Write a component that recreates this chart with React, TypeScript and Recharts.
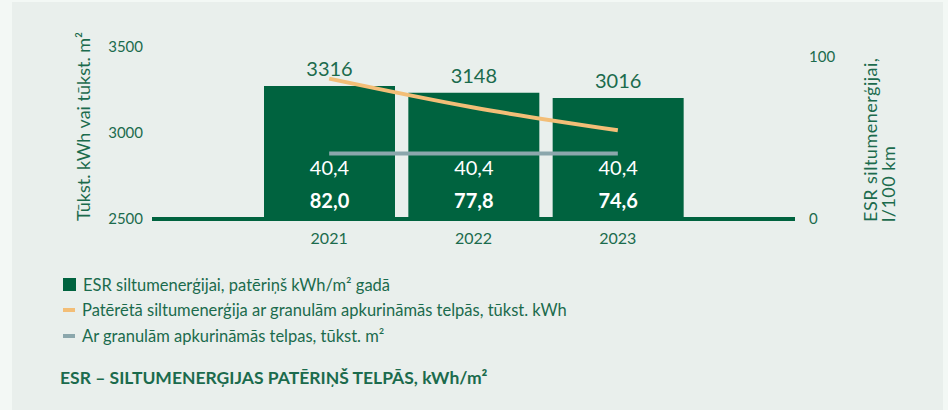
import React from "react";
import {
  ComposedChart,
  Bar,
  Line,
  XAxis,
  YAxis,
  Legend,
  LabelList,
} from "recharts";

const years = ["2021", "2022", "2023"];
const esrKwhPerM2 = [82.0, 77.8, 74.6];
const consumedKwh = [3316, 3148, 3016];
const heatedAreaM2 = [40.4, 40.4, 40.4];
const leftTicks = [2500, 3000, 3500];
const rightTicks = [0, 100];
const seriesNames = [
  "ESR siltumenerģijai, patēriņš kWh/m² gadā",
  "Patērētā siltumenerģija ar granulām apkurināmās telpās, tūkst. kWh",
  "Ar granulām apkurināmās telpas, tūkst. m²",
];

const GREEN = "#00633F";
const TEXT = "#1B6B4D";
const ORANGE = "#F3BE77";
const GREY = "#8BA7AC";
const FONT = "Lato, 'Open Sans', sans-serif";

const data = years.map((year, i) => ({
  year,
  esr: esrKwhPerM2[i],
  kwh: consumedKwh[i],
  area: heatedAreaM2[i],
}));

const fmt = (v: number) => v.toFixed(1).replace(".", ",");

// labels sitting near the bottom of each bar
const insideLabel = (dy: number, bold: boolean) => (props: any) => {
  const { x, y, width, height, value } = props;
  return (
    <text
      x={Number(x) + Number(width) / 2}
      y={Number(y) + Number(height) - dy}
      textAnchor="middle"
      dominantBaseline="central"
      fill="#fff"
      fontSize={20}
      fontWeight={bold ? 700 : 400}
      fontFamily={FONT}
    >
      {fmt(Number(value))}
    </text>
  );
};

const renderLegend = (props: any) => {
  const payload = [...(props.payload || [])].sort(
    (a: any, b: any) => seriesNames.indexOf(a.value) - seriesNames.indexOf(b.value)
  );
  return (
    <div style={{ fontFamily: FONT, fontSize: 16.5, color: TEXT }}>
      {payload.map((entry: any) => (
        <div
          key={entry.value}
          style={{ display: "flex", alignItems: "center", height: 25.5 }}
        >
          <span
            style={{
              display: "inline-block",
              width: entry.type === "rect" ? 13 : 12,
              height: entry.type === "rect" ? 13 : 4,
              background: entry.color,
              marginRight: 7,
            }}
          />
          {entry.value}
        </div>
      ))}
    </div>
  );
};

export default function App() {
  return (
    <div
      style={{
        position: "absolute",
        left: 0,
        top: 0,
        width: 948,
        height: 410,
        background: "#F3F8F5",
        overflow: "hidden",
      }}
    >
      <div
        style={{
          position: "absolute",
          left: 12,
          top: 2,
          width: 931,
          height: 408,
          background: "#E9EFEC",
        }}
      />
      <div style={{ position: "absolute", left: 0, top: 0 }}>
        <ComposedChart
          width={948}
          height={410}
          data={data}
          margin={{ top: 47, right: 0, bottom: 161, left: 0 }}
        >
          <XAxis
            dataKey="year"
            padding={{ left: 105, right: 105 }}
            axisLine={{ stroke: GREEN, strokeWidth: 4 }}
            tickLine={false}
            tick={{ fill: TEXT, fontSize: 16, fontFamily: FONT }}
            tickMargin={8}
            height={30}
          />
          <YAxis
            yAxisId="left"
            domain={[2500, 3500]}
            ticks={leftTicks}
            axisLine={false}
            tickLine={false}
            tickSize={0}
            tickMargin={9}
            width={152}
            tick={{ fill: TEXT, fontSize: 15, fontFamily: FONT }}
          />
          <YAxis
            yAxisId="right"
            orientation="right"
            domain={[0, 106]}
            ticks={rightTicks}
            axisLine={false}
            tickLine={false}
            tickSize={0}
            tickMargin={14}
            width={153}
            tick={{ fill: TEXT, fontSize: 15, fontFamily: FONT, textAnchor: "start" }}
          />
          <Bar
            yAxisId="right"
            dataKey="esr"
            name={seriesNames[0]}
            fill={GREEN}
            barSize={131}
            legendType="rect"
            isAnimationActive={false}
          >
            <LabelList
              dataKey="kwh"
              position="top"
              offset={10}
              fill={TEXT}
              fontSize={20}
              fontFamily={FONT}
            />
            <LabelList dataKey="area" content={insideLabel(52, false)} />
            <LabelList dataKey="esr" content={insideLabel(19, true)} />
          </Bar>
          <Line
            yAxisId="left"
            dataKey="kwh"
            name={seriesNames[1]}
            type="monotone"
            stroke={ORANGE}
            strokeWidth={4}
            dot={false}
            legendType="line"
            isAnimationActive={false}
          />
          <Line
            yAxisId="right"
            dataKey="area"
            name={seriesNames[2]}
            type="linear"
            stroke={GREY}
            strokeWidth={4}
            dot={false}
            legendType="line"
            isAnimationActive={false}
          />
          <Legend
            layout="vertical"
            align="center"
            verticalAlign="middle"
            content={renderLegend}
            wrapperStyle={{ left: 63, top: 272, width: 760, height: 80 }}
          />
        </ComposedChart>
      </div>
      <div
        style={{
          position: "absolute",
          left: 74,
          top: 221,
          transform: "rotate(-90deg)",
          transformOrigin: "0 0",
          fontFamily: FONT,
          fontSize: 18,
          color: TEXT,
          whiteSpace: "nowrap",
          lineHeight: "18px",
        }}
      >
        Tūkst. kWh vai tūkst. m²
      </div>
      <div
        style={{
          position: "absolute",
          left: 861,
          top: 222,
          transform: "rotate(-90deg)",
          transformOrigin: "0 0",
          fontFamily: FONT,
          fontSize: 18,
          letterSpacing: 0.5,
          color: TEXT,
          whiteSpace: "nowrap",
          lineHeight: "18px",
        }}
      >
        ESR siltumenerģijai,
        <br />
        l/100 km
      </div>
      <div
        style={{
          position: "absolute",
          left: 60,
          top: 367,
          fontFamily: FONT,
          fontSize: 17.5,
          fontWeight: 700,
          color: TEXT,
          whiteSpace: "nowrap",
        }}
      >
        ESR – SILTUMENERĢIJAS PATĒRIŅŠ TELPĀS, kWh/m²
      </div>
    </div>
  );
}
